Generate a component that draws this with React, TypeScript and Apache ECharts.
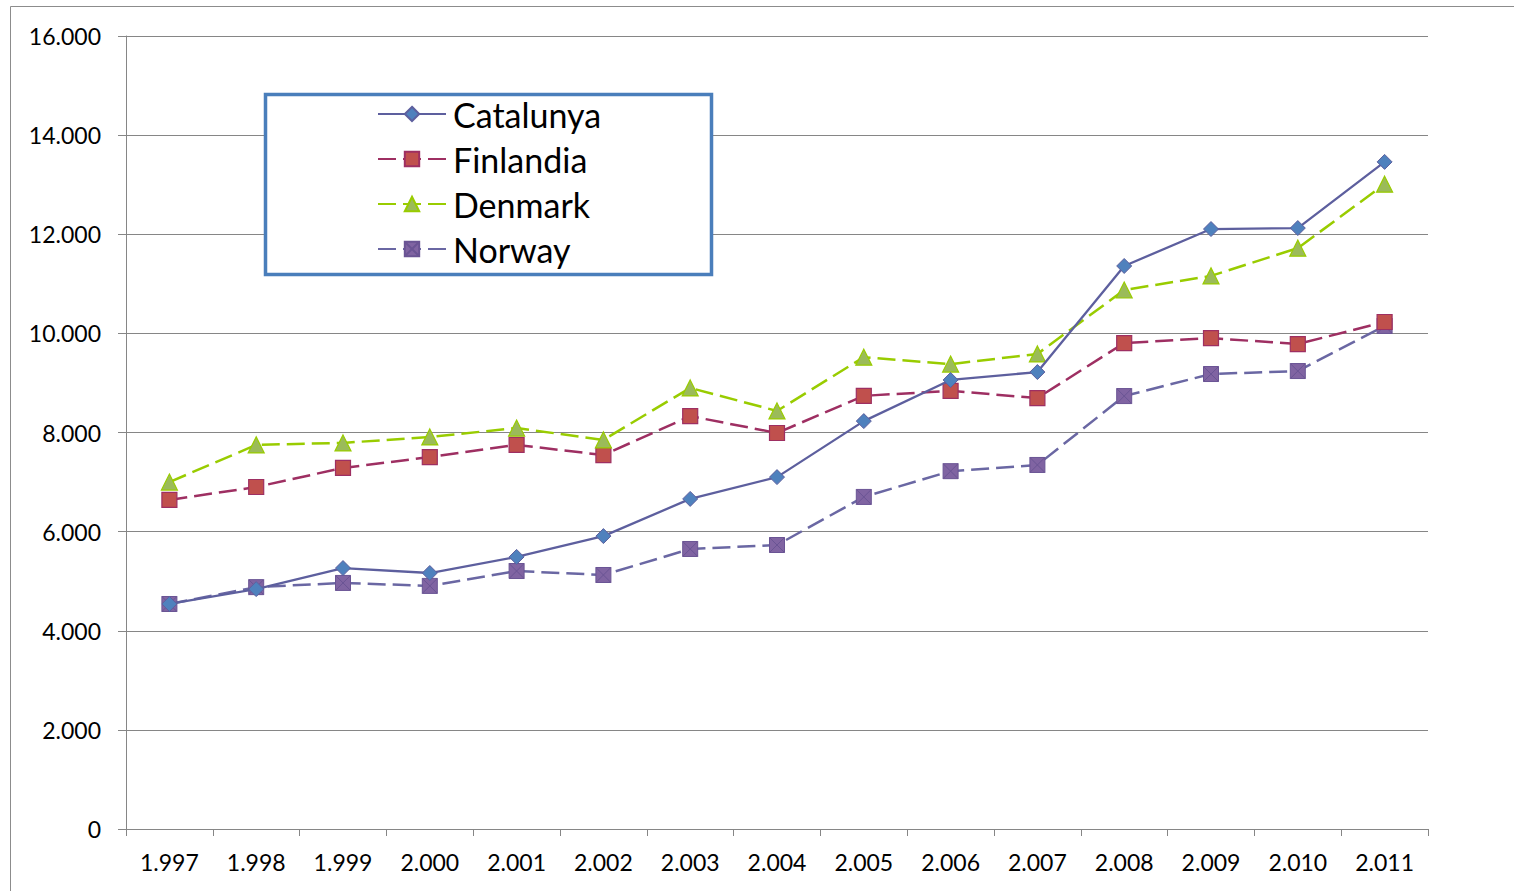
import React, { useEffect, useRef } from "react";
import * as echarts from "echarts";

const years = ["1.997", "1.998", "1.999", "2.000", "2.001", "2.002", "2.003", "2.004", "2.005", "2.006", "2.007", "2.008", "2.009", "2.010", "2.011"];
const catalunya = [4540, 4840, 5265, 5165, 5490, 5910, 6660, 7100, 8230, 9060, 9220, 11360, 12105, 12125, 13460];
const finlandia = [6640, 6900, 7285, 7505, 7750, 7545, 8330, 7990, 8740, 8840, 8695, 9805, 9905, 9785, 10230];
const denmark = [7000, 7750, 7790, 7910, 8090, 7850, 8900, 8435, 9520, 9380, 9585, 10875, 11160, 11720, 13010];
const norway = [4540, 4880, 4965, 4905, 5205, 5125, 5650, 5730, 6700, 7220, 7345, 8735, 9180, 9240, 10150];

const FONT = "Lato, 'Open Sans', sans-serif";

export default function App() {
  const ref = useRef<HTMLDivElement>(null);
  useEffect(() => {
    if (!ref.current) return;
    const chart = echarts.init(ref.current, null, { renderer: "svg" });
    const fmt = (v: number) => (v === 0 ? "0" : String(v).replace(/\B(?=(\d{3})+(?!\d))/g, "."));
    const axisGray = "#868686";
    const dash = [18, 7];
    chart.setOption({
      animation: false,
      backgroundColor: "#ffffff",
      textStyle: { fontFamily: FONT },
      grid: { left: 126, right: 86, top: 36, bottom: 62, containLabel: false },
      xAxis: {
        type: "category",
        data: years,
        boundaryGap: true,
        axisLine: { lineStyle: { color: axisGray, width: 1 } },
        axisTick: { show: true, length: 7, lineStyle: { color: axisGray }, alignWithLabel: false },
        axisLabel: { color: "#000", fontSize: 23, fontFamily: FONT, margin: 21 },
      },
      yAxis: {
        type: "value",
        min: 0,
        max: 16000,
        interval: 2000,
        axisLine: { show: true, lineStyle: { color: axisGray, width: 1 } },
        axisTick: { show: true, length: 8, lineStyle: { color: axisGray } },
        splitLine: { lineStyle: { color: axisGray, width: 1 } },
        axisLabel: { color: "#000", fontSize: 23, fontFamily: FONT, margin: 25, formatter: fmt },
      },
      legend: {
        left: 377,
        top: 97,
        padding: 0,
        z: 20,
        orient: "vertical",
        itemWidth: 68,
        itemHeight: 18,
        itemGap: 11,
        textStyle: { fontSize: 34, color: "#000", fontFamily: FONT, padding: [0, 0, 0, 2] },
        data: ["Catalunya", "Finlandia", "Denmark", "Norway"],
      },
      graphic: [
        {
          type: "rect",
          shape: { x: 10.5, y: 6.5, width: 1520, height: 900 },
          style: { fill: "none", stroke: "#8c8c8c", lineWidth: 1 },
          silent: true,
          z: -1,
        },
        {
          type: "rect",
          shape: { x: 265.5, y: 94.5, width: 446, height: 180 },
          style: { fill: "#ffffff", stroke: "#4a7ebb", lineWidth: 3.5 },
          silent: true,
          z: 5,
        },
      ],
      series: [
        {
          name: "Catalunya",
          type: "line",
          data: catalunya,
          symbol: "diamond",
          symbolSize: 15,
          z: 14,
          lineStyle: { color: "#5d5f9e", width: 2.3, type: "solid" },
          itemStyle: { color: "#4f81bd", borderColor: "#5d5f9e", borderWidth: 1 },
        },
        {
          name: "Finlandia",
          type: "line",
          data: finlandia,
          symbol: "rect",
          symbolSize: 15,
          z: 12,
          lineStyle: { color: "#9e2f62", width: 2.5, type: dash },
          itemStyle: { color: "#c0504d", borderColor: "#9e2f62", borderWidth: 1.2 },
        },
        {
          name: "Denmark",
          type: "line",
          data: denmark,
          symbol: "triangle",
          symbolSize: 16,
          z: 13,
          lineStyle: { color: "#99cc00", width: 2.5, type: dash },
          itemStyle: { color: "#9bbb59", borderColor: "#99cc00", borderWidth: 1.2 },
        },
        {
          name: "Norway",
          type: "line",
          data: norway,
          symbol: "path://M0,0L10,0L10,10L0,10Z M0,0L10,10 M10,0L0,10",
          symbolSize: 15,
          z: 11,
          lineStyle: { color: "#6a67a3", width: 2.5, type: dash },
          itemStyle: { color: "#8064a2", borderColor: "#6a5494", borderWidth: 1 },
        },
      ],
    });
    return () => chart.dispose();
  }, []);
  return (
    <div
      ref={ref}
      style={{ position: "fixed", left: 0, top: 0, width: 1514, height: 891, background: "#fff" }}
    />
  );
}
